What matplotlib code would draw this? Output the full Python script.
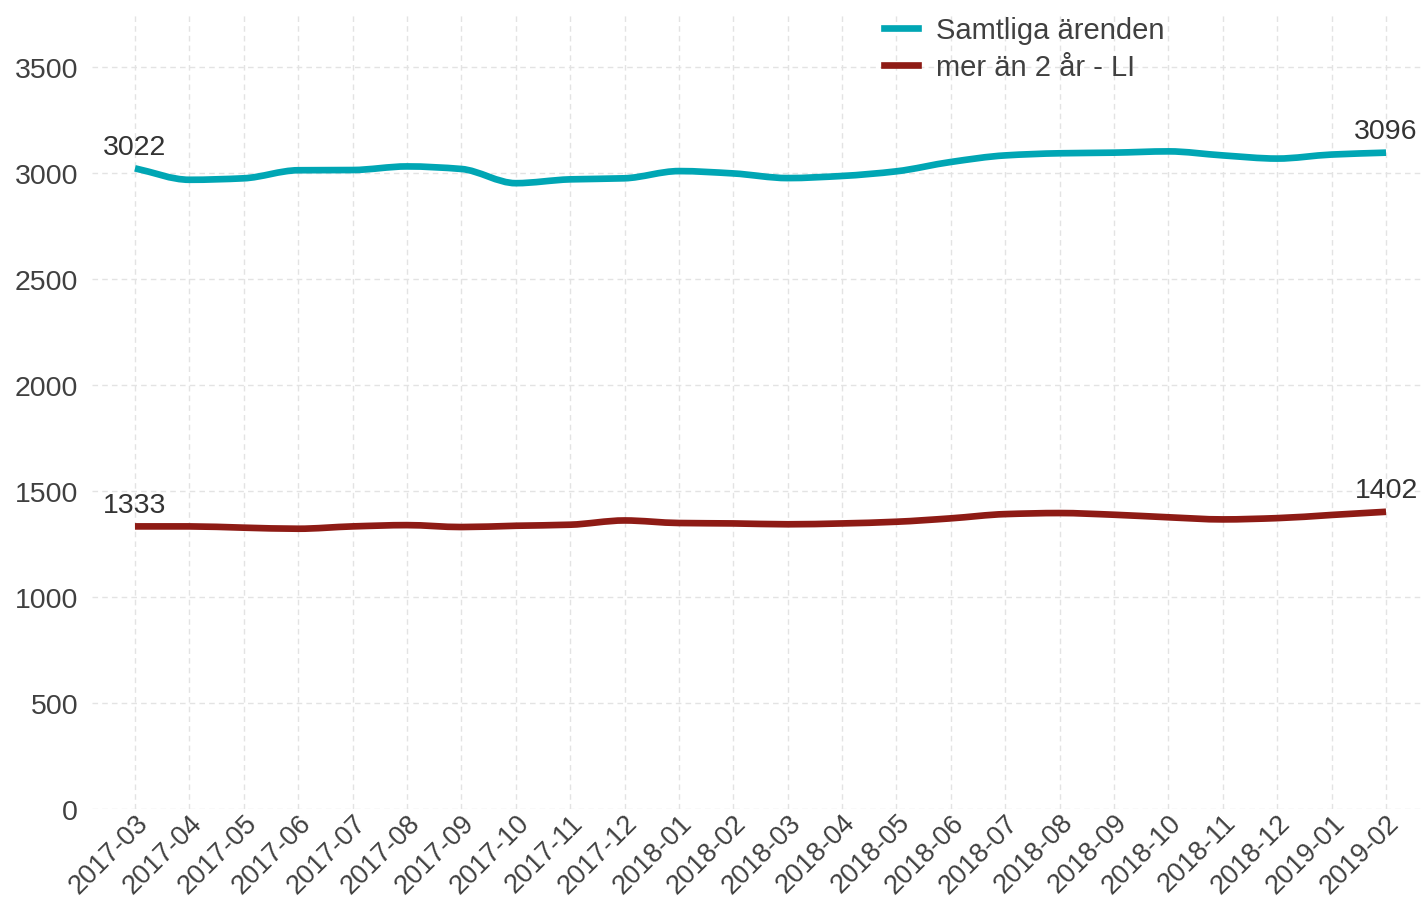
import matplotlib
matplotlib.use("Agg")
import matplotlib.pyplot as plt
import numpy as np
from matplotlib.path import Path
from matplotlib.patches import PathPatch
from matplotlib.lines import Line2D

plt.rcParams['font.family'] = ['Liberation Sans', 'DejaVu Sans']

months = ["2017-03", "2017-04", "2017-05", "2017-06", "2017-07", "2017-08",
          "2017-09", "2017-10", "2017-11", "2017-12", "2018-01", "2018-02",
          "2018-03", "2018-04", "2018-05", "2018-06", "2018-07", "2018-08",
          "2018-09", "2018-10", "2018-11", "2018-12", "2019-01", "2019-02"]
samtliga = [3022, 2968, 2975, 3013, 3014, 3031, 3019, 2952, 2970, 2975, 3009, 2998,
            2976, 2986, 3008, 3052, 3083, 3093, 3096, 3102, 3083, 3068, 3087, 3096]
over2 = [1333, 1333, 1327, 1322, 1333, 1339, 1330, 1336, 1341, 1361, 1349, 1347,
         1343, 1347, 1355, 1371, 1391, 1396, 1388, 1376, 1366, 1372, 1387, 1402]

teal = "#00A6B4"
red = "#8E1B15"
txt = "#404040"


def spline_path(x, y):
    # monotone cubic drawn as bezier segments
    x = np.asarray(x, float)
    y = np.asarray(y, float)
    d = np.diff(y) / np.diff(x)
    m = np.zeros_like(y)
    m[0], m[-1] = d[0], d[-1]
    for i in range(1, len(y) - 1):
        if d[i - 1] * d[i] <= 0:
            m[i] = 0
        else:
            m[i] = 2 / (1 / d[i - 1] + 1 / d[i])
    verts = [(x[0], y[0])]
    codes = [Path.MOVETO]
    for i in range(len(x) - 1):
        h = (x[i + 1] - x[i]) / 3
        verts += [(x[i] + h, y[i] + m[i] * h), (x[i + 1] - h, y[i + 1] - m[i + 1] * h), (x[i + 1], y[i + 1])]
        codes += [Path.CURVE4] * 3
    return Path(verts, codes)


fig = plt.figure(figsize=(14.23, 9.03), dpi=100)
ax = fig.add_axes([92 / 1423, 93 / 903, 1331 / 1423, 795 / 903])

xs = np.arange(len(months))
for vals, col in [(samtliga, teal), (over2, red)]:
    ax.add_patch(PathPatch(spline_path(xs, vals), facecolor="none", edgecolor=col,
                           lw=4.8, capstyle="butt", joinstyle="round", zorder=3))

ax.set_xlim(-0.79, 23.68)
ax.set_ylim(0, 3750)
ax.set_yticks(np.arange(0, 3501, 500))
ax.set_xticks(xs)
ax.set_xticklabels(months, rotation=45, ha="right", va="top", rotation_mode="anchor")
ax.tick_params(length=0, labelsize=20.5, labelcolor=txt)
ax.tick_params(axis="y", pad=10)
ax.tick_params(axis="x", labelsize=19.5, pad=0)
ax.grid(True, color="#e3e3e3", ls=(0, (4, 3)), lw=1)
ax.set_axisbelow(True)
for s in ax.spines.values():
    s.set_visible(False)

for i, vals in [(0, samtliga), (0, over2), (len(months) - 1, samtliga), (len(months) - 1, over2)]:
    ax.annotate(str(vals[i]), (xs[i], vals[i]), xytext=(0, 6), textcoords="offset points",
                ha="center", va="bottom", fontsize=20.5, color="#333333")

handles = [Line2D([], [], color=teal, lw=4.8), Line2D([], [], color=red, lw=4.8)]
fig.legend(handles, ["Samtliga ärenden", "mer än 2 år - LI"], loc="upper left",
           bbox_to_anchor=(884 / 1423, 1 - 17 / 903), frameon=False, fontsize=21,
           handlelength=1.15, handletextpad=0.62, labelspacing=0.3, borderpad=0,
           borderaxespad=0, labelcolor=txt)

fig.savefig("out.png", dpi=100)
